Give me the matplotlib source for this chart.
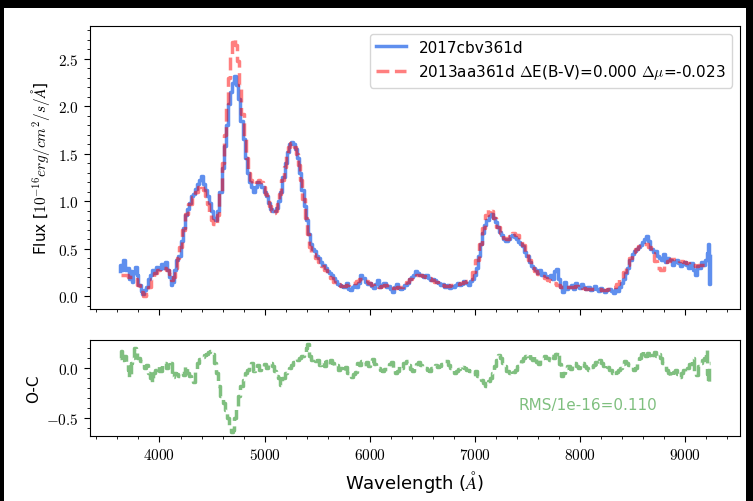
import matplotlib
matplotlib.use("Agg")
import matplotlib.pyplot as plt
from matplotlib.patches import Rectangle
from matplotlib.ticker import MultipleLocator, FuncFormatter

plt.rcParams["mathtext.fontset"] = "cm"
plt.rcParams["font.family"] = ["DejaVu Sans"]

# ── data ─────────────────────────────────────────────────────────────────────
# 2017cbv at 361d (observed, blue)
obs_wave = [3620, 3635, 3650, 3665, 3680, 3700, 3715, 3730, 3745, 3760, 3775, 3790,
            3810, 3830, 3845, 3860, 3880, 3900, 3920, 3940, 3960, 3980, 4000, 4020,
            4040, 4060, 4080, 4100, 4115, 4130, 4150, 4170, 4190, 4210, 4230, 4250,
            4270, 4290, 4310, 4330, 4350, 4370, 4385, 4400, 4420, 4440, 4460, 4480,
            4500, 4520, 4540, 4560, 4580, 4600, 4620, 4640, 4660, 4680, 4700, 4720,
            4740, 4760, 4780, 4800, 4820, 4840, 4860, 4880, 4900, 4920, 4940, 4960,
            4980, 5000, 5020, 5040, 5060, 5080, 5100, 5120, 5140, 5160, 5180, 5200,
            5220, 5240, 5260, 5280, 5300, 5320, 5340, 5360, 5380, 5400, 5420, 5440,
            5460, 5480, 5500, 5520, 5540, 5560, 5580, 5600, 5620, 5640, 5660, 5680,
            5700, 5720, 5740, 5760, 5780, 5800, 5820, 5840, 5860, 5880, 5900, 5920,
            5940, 5960, 5980, 6000, 6020, 6040, 6060, 6080, 6100, 6120, 6140, 6160,
            6180, 6200, 6220, 6240, 6260, 6280, 6300, 6320, 6340, 6360, 6380, 6400,
            6420, 6440, 6460, 6480, 6500, 6520, 6540, 6560, 6580, 6600, 6620, 6640,
            6660, 6680, 6700, 6720, 6740, 6760, 6780, 6800, 6820, 6840, 6860, 6880,
            6900, 6920, 6940, 6960, 6980, 7000, 7020, 7040, 7060, 7080, 7100, 7120,
            7140, 7160, 7180, 7200, 7220, 7240, 7260, 7280, 7300, 7320, 7340, 7360,
            7380, 7400, 7420, 7440, 7460, 7480, 7500, 7520, 7540, 7560, 7580, 7600,
            7620, 7640, 7660, 7680, 7700, 7720, 7740, 7760, 7780, 7800, 7820, 7840,
            7860, 7880, 7900, 7920, 7940, 7960, 7980, 8000, 8020, 8040, 8060, 8080,
            8100, 8120, 8140, 8160, 8180, 8200, 8220, 8240, 8260, 8280, 8300, 8320,
            8340, 8360, 8380, 8400, 8420, 8440, 8460, 8480, 8500, 8520, 8540, 8560,
            8580, 8600, 8620, 8640, 8660, 8680, 8700, 8720, 8740, 8760, 8780, 8800,
            8820, 8840, 8860, 8880, 8900, 8920, 8940, 8960, 8980, 9000, 9020, 9040,
            9060, 9080, 9100, 9120, 9140, 9160, 9180, 9200, 9215, 9225, 9235, 9240]
obs_flux = [0.26, 0.33, 0.28, 0.38, 0.27, 0.30, 0.18, 0.26, 0.15, 0.24, 0.31, 0.22,
            0.12, 0.05, 0.02, 0.06, 0.10, 0.18, 0.22, 0.27, 0.24, 0.31, 0.29, 0.34,
            0.30, 0.36, 0.28, 0.20, 0.12, 0.15, 0.27, 0.38, 0.42, 0.58, 0.72, 0.85,
            0.92, 0.98, 1.05, 1.08, 1.13, 1.18, 1.22, 1.27, 1.18, 1.12, 1.05, 0.98,
            0.90, 0.82, 0.80, 0.90, 1.10, 1.35, 1.58, 1.80, 2.02, 2.15, 2.25, 2.32,
            2.22, 2.08, 1.85, 1.65, 1.45, 1.30, 1.20, 1.15, 1.10, 1.15, 1.20, 1.18,
            1.15, 1.10, 1.05, 0.98, 0.92, 0.90, 0.90, 0.93, 1.00, 1.10, 1.25, 1.40,
            1.52, 1.60, 1.62, 1.60, 1.55, 1.45, 1.30, 1.12, 0.95, 0.80, 0.65, 0.55,
            0.50, 0.48, 0.42, 0.40, 0.36, 0.33, 0.30, 0.26, 0.24, 0.22, 0.19, 0.16,
            0.13, 0.12, 0.11, 0.10, 0.14, 0.08, 0.06, 0.10, 0.12, 0.10, 0.14, 0.22,
            0.19, 0.15, 0.13, 0.14, 0.11, 0.09, 0.13, 0.17, 0.10, 0.12, 0.14, 0.10,
            0.11, 0.08, 0.04, 0.10, 0.13, 0.09, 0.07, 0.09, 0.12, 0.14, 0.18, 0.20,
            0.22, 0.26, 0.24, 0.22, 0.22, 0.20, 0.22, 0.19, 0.17, 0.18, 0.17, 0.15,
            0.14, 0.12, 0.13, 0.10, 0.12, 0.09, 0.11, 0.10, 0.12, 0.14, 0.12, 0.13,
            0.16, 0.14, 0.12, 0.16, 0.18, 0.22, 0.30, 0.42, 0.55, 0.66, 0.75, 0.80,
            0.84, 0.86, 0.82, 0.78, 0.73, 0.68, 0.64, 0.60, 0.58, 0.60, 0.63, 0.64,
            0.62, 0.60, 0.57, 0.55, 0.53, 0.47, 0.42, 0.36, 0.32, 0.30, 0.28, 0.24,
            0.27, 0.22, 0.24, 0.21, 0.20, 0.22, 0.18, 0.26, 0.29, 0.18, 0.10, 0.04,
            0.15, 0.08, 0.10, 0.12, 0.08, 0.14, 0.11, 0.09, 0.13, 0.10, 0.08, 0.10,
            0.06, 0.08, 0.11, 0.07, 0.05, 0.09, 0.06, 0.04, 0.06, 0.08, 0.05, 0.03,
            0.07, 0.05, 0.10, 0.14, 0.18, 0.24, 0.30, 0.38, 0.44, 0.48, 0.50, 0.52,
            0.54, 0.57, 0.60, 0.63, 0.58, 0.50, 0.46, 0.48, 0.42, 0.40, 0.38, 0.44,
            0.36, 0.40, 0.38, 0.33, 0.36, 0.38, 0.35, 0.32, 0.34, 0.36, 0.33, 0.30,
            0.35, 0.28, 0.22, 0.32, 0.30, 0.36, 0.33, 0.38, 0.45, 0.55, 0.13, 0.42]

# 2013aa at 361d (template, red dashed)
tmpl_wave = [3630, 3660, 3690, 3720, 3750, 3780, 3800, 3830, 3860, 3880, 3900, 3930,
             3960, 3990, 4020, 4050, 4080, 4100, 4120, 4140, 4160, 4180, 4200, 4230,
             4260, 4290, 4320, 4350, 4380, 4400, 4420, 4440, 4460, 4480, 4500, 4520,
             4540, 4560, 4580, 4600, 4620, 4640, 4660, 4680, 4700, 4715, 4730, 4750,
             4770, 4790, 4810, 4830, 4850, 4870, 4890, 4910, 4930, 4950, 4970, 4990,
             5010, 5030, 5050, 5070, 5090, 5110, 5130, 5150, 5170, 5190, 5210, 5230,
             5250, 5270, 5290, 5310, 5330, 5350, 5370, 5390, 5410, 5430, 5450, 5470,
             5490, 5520, 5550, 5580, 5610, 5640, 5670, 5700, 5730, 5760, 5790, 5820,
             5850, 5880, 5910, 5940, 5970, 6000, 6030, 6060, 6090, 6120, 6150, 6180,
             6210, 6240, 6270, 6300, 6330, 6360, 6390, 6420, 6450, 6480, 6510, 6540,
             6570, 6600, 6630, 6660, 6690, 6720, 6750, 6780, 6810, 6840, 6870, 6900,
             6930, 6960, 6990, 7020, 7050, 7080, 7110, 7140, 7160, 7190, 7220, 7250,
             7280, 7310, 7340, 7370, 7400, 7430, 7460, 7490, 7520, 7550, 7580, 7610,
             7640, 7670, 7700, 7730, 7760, 7790, 7820, 7850, 7880, 7910, 7940, 7970,
             8000, 8030, 8060, 8090, 8120, 8150, 8180, 8210, 8240, 8270, 8300, 8330,
             8360, 8390, 8420, 8450, 8480, 8510, 8540, 8570, 8600, 8630, 8660, 8690,
             8720, 8750, 8770, 8790, 8810, 8840, 8870, 8900, 8930, 8960, 8990, 9020,
             9050, 9080, 9110, 9140, 9170, 9200, 9230]
tmpl_flux = [0.22, 0.22, 0.22, 0.20, 0.20, 0.18, 0.12, 0.04, 0.00, 0.02, 0.10, 0.18,
             0.24, 0.28, 0.30, 0.30, 0.28, 0.23, 0.17, 0.20, 0.30, 0.40, 0.52, 0.70,
             0.86, 0.97, 1.04, 1.10, 1.15, 1.17, 1.12, 1.05, 0.97, 0.88, 0.80, 0.76,
             0.75, 0.85, 1.10, 1.40, 1.70, 2.00, 2.30, 2.55, 2.68, 2.71, 2.65, 2.48,
             2.22, 1.92, 1.65, 1.45, 1.30, 1.22, 1.18, 1.18, 1.20, 1.22, 1.20, 1.15,
             1.08, 1.02, 0.95, 0.90, 0.88, 0.90, 0.97, 1.08, 1.22, 1.36, 1.48, 1.57,
             1.61, 1.61, 1.57, 1.50, 1.38, 1.22, 1.02, 0.82, 0.65, 0.52, 0.46, 0.44,
             0.40, 0.36, 0.32, 0.28, 0.24, 0.19, 0.15, 0.13, 0.11, 0.11, 0.12, 0.13,
             0.14, 0.16, 0.18, 0.18, 0.16, 0.14, 0.12, 0.11, 0.10, 0.11, 0.12, 0.10,
             0.09, 0.09, 0.10, 0.10, 0.12, 0.15, 0.18, 0.20, 0.22, 0.22, 0.21, 0.20,
             0.19, 0.17, 0.15, 0.13, 0.12, 0.11, 0.11, 0.12, 0.12, 0.13, 0.14, 0.15,
             0.16, 0.18, 0.25, 0.38, 0.55, 0.72, 0.85, 0.92, 0.90, 0.82, 0.73, 0.66,
             0.61, 0.60, 0.63, 0.66, 0.64, 0.60, 0.54, 0.47, 0.38, 0.30, 0.26, 0.23,
             0.21, 0.19, 0.17, 0.16, 0.14, 0.12, 0.10, 0.09, 0.10, 0.10, 0.10, 0.11,
             0.10, 0.09, 0.08, 0.08, 0.07, 0.07, 0.07, 0.06, 0.06, 0.07, 0.08, 0.10,
             0.13, 0.18, 0.25, 0.33, 0.40, 0.46, 0.50, 0.53, 0.55, 0.55, 0.52, 0.45,
             0.37, 0.30, 0.27, 0.28, 0.33, 0.37, 0.39, 0.39, 0.38, 0.37, 0.36, 0.35,
             0.34, 0.33, 0.32, 0.33, 0.33, 0.33, 0.33]

# observed minus comparison (green dashed)
oc_wave = [3625, 3640, 3655, 3670, 3690, 3705, 3720, 3735, 3750, 3765, 3780, 3800,
           3820, 3840, 3860, 3880, 3900, 3920, 3935, 3950, 3970, 3990, 4010, 4030,
           4050, 4070, 4090, 4110, 4130, 4150, 4170, 4190, 4210, 4230, 4250, 4270,
           4290, 4310, 4330, 4350, 4370, 4390, 4410, 4430, 4450, 4470, 4490, 4510,
           4530, 4550, 4570, 4590, 4610, 4630, 4650, 4670, 4690, 4705, 4720, 4740,
           4760, 4780, 4800, 4820, 4840, 4860, 4880, 4900, 4920, 4940, 4960, 4980,
           5000, 5020, 5040, 5060, 5080, 5100, 5120, 5140, 5160, 5180, 5200, 5220,
           5240, 5260, 5280, 5300, 5320, 5340, 5360, 5380, 5400, 5415, 5430, 5450,
           5470, 5490, 5510, 5530, 5550, 5570, 5590, 5610, 5630, 5650, 5670, 5690,
           5710, 5730, 5750, 5770, 5790, 5810, 5830, 5850, 5870, 5890, 5910, 5930,
           5950, 5970, 5990, 6010, 6030, 6050, 6070, 6090, 6110, 6130, 6150, 6170,
           6190, 6210, 6230, 6250, 6270, 6290, 6310, 6330, 6350, 6370, 6390, 6410,
           6430, 6450, 6470, 6490, 6510, 6530, 6550, 6570, 6590, 6610, 6630, 6650,
           6670, 6690, 6710, 6730, 6750, 6770, 6790, 6810, 6830, 6850, 6870, 6890,
           6910, 6930, 6950, 6970, 6990, 7010, 7030, 7050, 7070, 7090, 7110, 7130,
           7150, 7170, 7190, 7210, 7230, 7250, 7270, 7290, 7310, 7330, 7350, 7370,
           7390, 7410, 7430, 7450, 7470, 7490, 7510, 7530, 7550, 7570, 7590, 7610,
           7630, 7650, 7670, 7690, 7710, 7730, 7750, 7770, 7790, 7810, 7830, 7850,
           7870, 7890, 7910, 7930, 7950, 7970, 7990, 8010, 8030, 8050, 8070, 8090,
           8110, 8130, 8150, 8170, 8190, 8210, 8230, 8250, 8270, 8290, 8310, 8330,
           8350, 8370, 8390, 8410, 8430, 8450, 8470, 8490, 8510, 8530, 8550, 8570,
           8590, 8610, 8630, 8650, 8670, 8690, 8710, 8730, 8750, 8770, 8790, 8810,
           8830, 8850, 8870, 8890, 8910, 8930, 8950, 8970, 8990, 9010, 9030, 9050,
           9070, 9090, 9110, 9130, 9150, 9170, 9190, 9205, 9215, 9225, 9235]
oc_flux = [0.10, 0.17, 0.08, 0.12, 0.05, -0.02, -0.09, 0.05, 0.10, 0.20, 0.15, 0.10,
           0.07, 0.05, 0.00, 0.03, -0.05, -0.10, -0.14, -0.05, -0.02, 0.02, -0.03, 0.03,
           0.05, 0.00, 0.07, 0.05, -0.09, -0.05, -0.06, -0.08, -0.05, -0.07, 0.02, -0.05,
           -0.08, -0.10, -0.14, -0.02, 0.05, 0.09, 0.11, 0.13, 0.14, 0.16, 0.17, 0.14,
           0.05, -0.05, -0.18, -0.28, -0.35, -0.42, -0.50, -0.58, -0.64, -0.62, -0.50, -0.38,
           -0.28, -0.18, -0.12, -0.05, -0.02, 0.02, 0.05, -0.03, 0.00, 0.03, -0.02, 0.02,
           0.04, 0.00, 0.03, 0.05, 0.02, -0.03, -0.08, -0.10, -0.17, -0.10, -0.05, -0.03,
           0.00, 0.03, 0.06, 0.09, 0.08, 0.10, 0.12, 0.15, 0.20, 0.24, 0.12, 0.08,
           0.10, 0.07, 0.08, 0.03, 0.06, 0.02, 0.07, 0.04, 0.08, 0.05, 0.02, 0.03,
           -0.02, 0.00, -0.03, 0.01, -0.05, -0.07, -0.09, -0.06, -0.04, 0.05, 0.03, 0.07,
           0.04, 0.06, 0.02, 0.07, 0.09, 0.04, 0.02, 0.00, -0.02, -0.03, -0.01, 0.02,
           0.04, 0.06, -0.02, -0.05, -0.03, 0.02, 0.00, 0.05, 0.07, 0.03, -0.01, -0.03,
           0.01, 0.04, 0.06, 0.03, 0.01, 0.00, -0.02, -0.03, 0.00, 0.02, 0.03, 0.01,
           0.02, 0.04, 0.06, 0.07, 0.03, 0.00, -0.02, -0.05, -0.03, -0.01, 0.02, 0.01,
           0.00, -0.02, -0.03, -0.05, -0.06, -0.03, -0.08, -0.10, -0.12, -0.15, -0.18, -0.13,
           -0.10, -0.05, 0.02, 0.08, 0.13, 0.10, 0.05, 0.02, -0.03, -0.05, -0.07, -0.04,
           -0.02, 0.02, 0.05, 0.07, 0.10, 0.12, 0.14, 0.10, 0.08, 0.12, 0.06, 0.04,
           0.08, 0.10, 0.12, 0.10, 0.08, 0.12, 0.10, 0.14, 0.16, 0.04, -0.08, -0.05,
           0.00, 0.02, -0.01, 0.03, 0.05, 0.02, 0.00, 0.03, 0.05, 0.02, 0.00, -0.02,
           0.01, 0.03, 0.06, 0.04, 0.08, 0.05, 0.02, 0.04, 0.01, -0.02, -0.05, -0.07,
           -0.04, -0.02, 0.00, 0.04, 0.07, 0.05, 0.03, 0.01, -0.02, 0.00, 0.06, 0.10,
           0.14, 0.17, 0.12, 0.15, 0.10, 0.13, 0.16, 0.12, 0.14, 0.10, 0.05, 0.02,
           -0.02, -0.05, -0.08, -0.04, -0.02, -0.06, -0.09, -0.05, -0.02, -0.04, 0.00, 0.04,
           0.10, -0.03, -0.07, 0.02, 0.05, 0.08, 0.10, 0.18, -0.06, -0.15, 0.05]

obs_label = "2017cbv361d"
tmpl_label = r"2013aa361d $\Delta$E(B-V)=0.000 $\Delta\mu$=-0.023"
rms_text = "RMS/1e-16=0.110"

# ── figure ────────────────────────────────────────────────────────────────────
fig = plt.figure(figsize=(7.53, 5.02), dpi=100, facecolor="black")
# white page inside a thin black frame, as in the reference screenshot
fig.patches.append(Rectangle((0.0053, 0.0), 0.9854, 0.982, transform=fig.transFigure,
                             facecolor="white", edgecolor="none", zorder=-10))

ax = fig.add_axes([0.1195, 0.3825, 0.8632, 0.5637])
ax_oc = fig.add_axes([0.1195, 0.1295, 0.8632, 0.1912], sharex=ax)

ax.plot(obs_wave, obs_flux, color="#5f8fee", lw=2.5, drawstyle="steps-mid",
        label=obs_label)
ax.plot(tmpl_wave, tmpl_flux, color="red", alpha=0.5, lw=2.5, ls="--",
        drawstyle="steps-mid", label=tmpl_label)
ax_oc.plot(oc_wave, oc_flux, color="green", alpha=0.5, lw=2.5, ls="--",
           drawstyle="steps-mid")

ax.legend(loc="upper right", fontsize=11, framealpha=0.8)
ax.set_ylabel(r"Flux [$10^{-16} erg/cm^2/s/\AA$]", fontsize=11)
ax_oc.set_ylabel("O-C", fontsize=11)
ax_oc.set_xlabel(r"Wavelength ($\AA$)", fontsize=13)
ax_oc.text(0.66, 0.33, rms_text, transform=ax_oc.transAxes, color="green",
           alpha=0.5, fontsize=11, va="center")

math_fmt = FuncFormatter(lambda v, pos: f"${v:g}$" if abs(v) >= 1000 else f"${v:.1f}$")
for a in (ax, ax_oc):
    a.xaxis.set_minor_locator(MultipleLocator(200))
    a.yaxis.set_minor_locator(MultipleLocator(0.1))
    a.tick_params(which="both", direction="out", top=False, right=False, labelsize=11)
    a.tick_params(which="major", length=4.5)
    a.tick_params(which="minor", length=2.5)
    a.yaxis.set_major_formatter(math_fmt)
    a.xaxis.set_major_formatter(math_fmt)
ax.yaxis.set_major_locator(MultipleLocator(0.5))
ax_oc.yaxis.set_major_locator(MultipleLocator(0.5))
ax.xaxis.set_major_locator(MultipleLocator(1000))
ax.tick_params(labelbottom=False)

fig.align_ylabels([ax, ax_oc])
fig.savefig("out.png", dpi=100, facecolor=fig.get_facecolor())
